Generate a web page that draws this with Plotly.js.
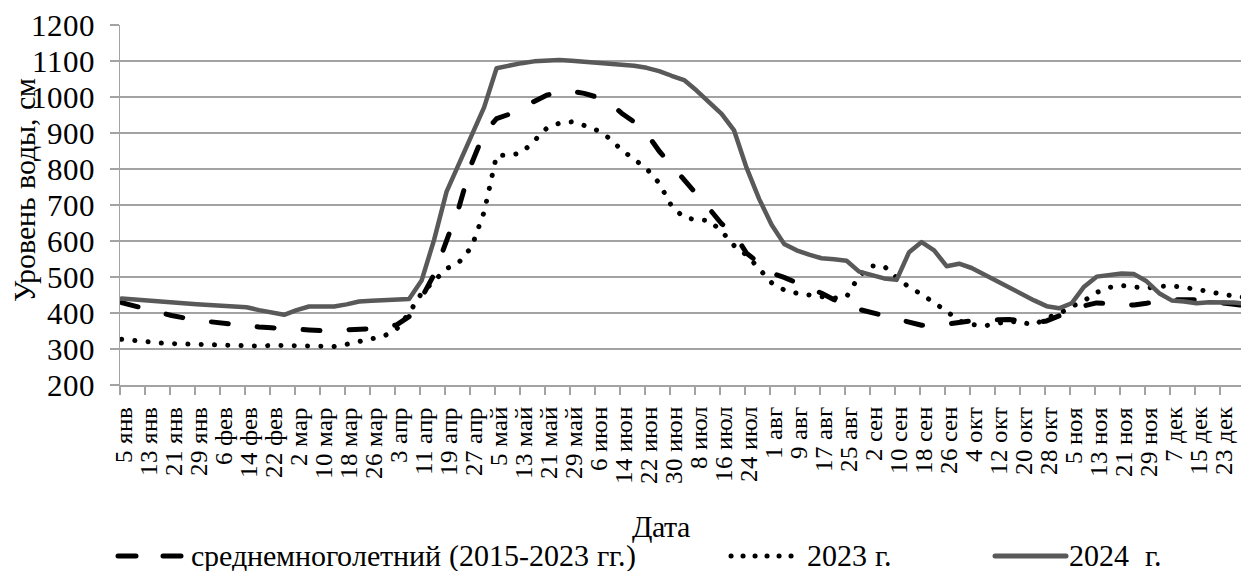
<!DOCTYPE html>
<html><head><meta charset="utf-8">
<script src="https://cdn.plot.ly/plotly-3.0.1.min.js"></script>
<style>
@font-face{font-family:'ChartSerif';src:local('Liberation Serif'),local('LiberationSerif'),local('LiberationSerif-Regular'),local('Times New Roman');font-weight:normal;font-style:normal;}
html,body{margin:0;padding:0;background:#fff;}
#chart{width:1241px;height:571px;}
#chart svg text,#chart svg tspan{font-family:'ChartSerif','Liberation Serif','Times New Roman',serif !important;}
.scatterlayer .js-line{stroke-linecap:round;stroke-linejoin:round;}
.shapelayer path{stroke-linecap:round;}
</style></head><body>
<div id="chart"></div><script>
// Observation dates (every 4 days); axis labels every 8 days
const dates = [
'2023-01-05','2023-01-09','2023-01-13','2023-01-17','2023-01-21','2023-01-25','2023-01-29',
'2023-02-02','2023-02-06','2023-02-10','2023-02-14','2023-02-18','2023-02-22','2023-02-26',
'2023-03-02','2023-03-06','2023-03-10','2023-03-14','2023-03-18','2023-03-22','2023-03-26','2023-03-30',
'2023-04-03','2023-04-07','2023-04-11','2023-04-15','2023-04-19','2023-04-23','2023-04-27',
'2023-05-01','2023-05-05','2023-05-09','2023-05-13','2023-05-17','2023-05-21','2023-05-25','2023-05-29',
'2023-06-02','2023-06-06','2023-06-10','2023-06-14','2023-06-18','2023-06-22','2023-06-26','2023-06-30',
'2023-07-04','2023-07-08','2023-07-12','2023-07-16','2023-07-20','2023-07-24','2023-07-28',
'2023-08-01','2023-08-05','2023-08-09','2023-08-13','2023-08-17','2023-08-21','2023-08-25','2023-08-29',
'2023-09-02','2023-09-06','2023-09-10','2023-09-14','2023-09-18','2023-09-22','2023-09-26','2023-09-30',
'2023-10-04','2023-10-08','2023-10-12','2023-10-16','2023-10-20','2023-10-24','2023-10-28',
'2023-11-01','2023-11-05','2023-11-09','2023-11-13','2023-11-17','2023-11-21','2023-11-25','2023-11-29',
'2023-12-03','2023-12-07','2023-12-11','2023-12-15','2023-12-19','2023-12-23','2023-12-27','2023-12-31'
];
const tickLabels = ['5 янв','13 янв','21 янв','29 янв','6 фев','14 фев','22 фев','2 мар','10 мар','18 мар','26 мар',
'3 апр','11 апр','19 апр','27 апр','5 май','13 май','21 май','29 май','6 июн','14 июн','22 июн','30 июн',
'8 июл','16 июл','24 июл','1 авг','9 авг','17 авг','25 авг','2 сен','10 сен','18 сен','26 сен',
'4 окт','12 окт','20 окт','28 окт','5 ноя','13 ноя','21 ноя','29 ноя','7 дек','15 дек','23 дек'];

const avgLevel = [429,421,412,402,393,385,380,376,372,367,
364,361,359,356,354,353,351,352,354,355,
356,360,367,390,442,507,600,695,815,900,
940,952,970,988,1005,1014,1016,1010,1000,985,
955,931,899,850,811,768,730,690,648,620,
566,537,511,499,485,472,455,437,420,410,
401,391,381,372,366,365,370,375,378,380,
382,382,378,373,378,392,407,420,428,426,
421,422,427,434,437,438,437,433,430,424,
420];
const level2023 = [327,323,319,317,315,314,312,310,309,308,
307,308,310,310,309,309,308,307,313,320,
326,336,355,400,455,487,523,541,583,680,
838,838,845,878,913,927,931,921,908,886,
853,827,801,761,697,665,659,657,627,587,
561,523,484,464,455,450,445,441,445,503,
531,530,498,472,452,430,405,378,368,364,
371,377,374,367,386,398,418,434,457,471,
476,471,469,474,475,471,466,460,452,446,
443];
const level2024 = [440,437,433,430,427,425,424,422,420,418,
416,408,400,395,408,418,418,418,424,432,
434,436,437,439,490,603,737,815,886,971,
1080,1088,1094,1099,1101,1103,1101,1098,1096,1094,
1091,1087,1081,1072,1059,1047,1018,987,953,907,
803,717,645,592,574,562,552,549,545,515,
505,496,492,569,597,574,530,537,525,507,
487,469,452,435,419,413,427,473,501,506,
510,508,488,455,435,432,427,430,431,429,
426];

const seriesNames = ['среднемноголетний (2015-2023 гг.)', '2023 г.', '2024\u00a0 г.'];

const FONT = 'ChartSerif';
const GRID = '#a3a3a3';
const DARK = '#595959';

// plot-area geometry (pixels) for placing the hand-made legend / titles
const L = 120, T = 25, W = 1121, H = 360;
const px = v => (v - L) / W;
const py = v => (T + H - v) / H;
const txt = (s) => ({family: FONT, size: s || 29, color: '#000'});

const tickvals = dates.filter((d, i) => i % 2 === 0);

function buildTraces() {
  return [
    {x: dates, y: avgLevel, name: seriesNames[0], mode: 'lines',
     line: {color: '#000', width: 5, dash: '17px,29px'}},
    {x: dates, y: level2023, name: seriesNames[1], mode: 'lines',
     line: {color: '#000', width: 5, dash: '0.1px,13.2px'}},
    {x: dates, y: level2024, name: seriesNames[2], mode: 'lines',
     line: {color: DARK, width: 4.5}}
  ];
}

const legY = 556;
function buildLayout() {
  return {
    width: 1241, height: 571,
    margin: {l: L, r: 0, t: T, b: 571 - T - H},
    paper_bgcolor: '#fff', plot_bgcolor: '#fff',
    showlegend: false,
    font: {family: FONT, color: '#000'},
    xaxis: {
      type: 'date',
      range: ['2023-01-04 12:00', '2023-12-29 04:48'],
      tickmode: 'array', tickvals: tickvals, ticktext: tickLabels,
      tickangle: -90, ticks: '', tickfont: txt(25),
      showgrid: false, zeroline: false,
      showline: true, linecolor: GRID, linewidth: 1.5,
      minor: {ticks: 'outside', ticklen: 8, tickwidth: 1.5, tickcolor: GRID,
              tick0: '2023-01-04 12:00', dtick: 8 * 86400000, showgrid: false},
      ticklabelstandoff: 10, ticklabelshift: 2
    },
    yaxis: {
      range: [200, 1200], dtick: 100, tick0: 200,
      ticks: 'outside', ticklen: 9, tickwidth: 1.5, tickcolor: GRID,
      tickfont: txt(30.5), ticklabelstandoff: 8,
      showgrid: true, gridcolor: GRID, gridwidth: 1.5,
      showline: true, linecolor: GRID, linewidth: 1.5, zeroline: false
    },
    shapes: [
      {type: 'line', xref: 'paper', yref: 'paper', x0: px(118), x1: px(181), y0: py(legY), y1: py(legY),
       line: {color: '#000', width: 5, dash: '18px,27px'}},
      {type: 'line', xref: 'paper', yref: 'paper', x0: px(731), x1: px(792), y0: py(legY), y1: py(legY),
       line: {color: '#000', width: 5, dash: '0.1px,11.9px'}},
      {type: 'line', xref: 'paper', yref: 'paper', x0: px(995), x1: px(1066), y0: py(legY), y1: py(legY),
       line: {color: DARK, width: 5}}
    ],
    annotations: [
      {text: seriesNames[0], xref: 'paper', yref: 'paper', x: px(189), y: py(legY), xanchor: 'left', yanchor: 'middle',
       showarrow: false, font: txt(29.5)},
      {text: seriesNames[1], xref: 'paper', yref: 'paper', x: px(805), y: py(legY), xanchor: 'left', yanchor: 'middle',
       showarrow: false, font: txt(29.5)},
      {text: seriesNames[2], xref: 'paper', yref: 'paper', x: px(1067), y: py(legY), xanchor: 'left', yanchor: 'middle',
       showarrow: false, font: txt(29.5)},
      {text: 'Дата', xref: 'paper', yref: 'paper', x: px(661), y: py(527), xanchor: 'center', yanchor: 'middle',
       showarrow: false, font: txt(29.5)},
      {text: 'Уровень воды, см', xref: 'paper', yref: 'paper', x: px(24), y: py(190), xanchor: 'center', yanchor: 'middle',
       textangle: -90, showarrow: false, font: txt(30)}
    ]
  };
}

const config = {staticPlot: true, displayModeBar: false};
function draw() { return Plotly.newPlot('chart', buildTraces(), buildLayout(), config); }
draw();
if (document.fonts && document.fonts.load) {
  document.fonts.load('25px "ChartSerif"', 'Уровень воды янв 0123456789').then(draw, draw);
}
</script></body></html>
